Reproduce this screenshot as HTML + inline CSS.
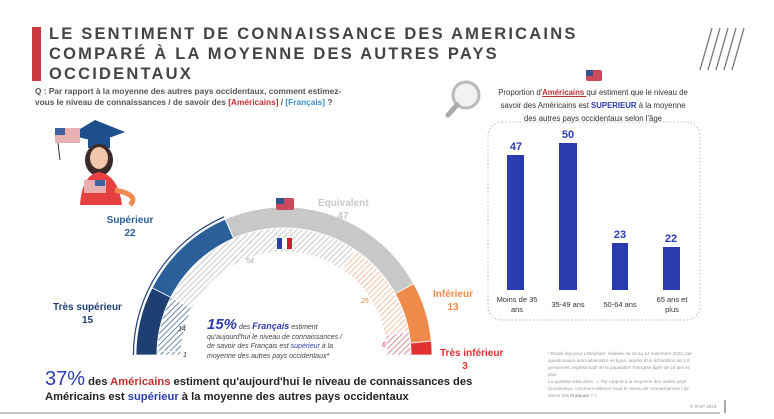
<!DOCTYPE html>
<html><head><meta charset="utf-8">
<style>
body{margin:0;background:#fff;width:774px;height:419px;overflow:hidden;font-family:"Liberation Sans",Arial,sans-serif;position:relative}
.t{position:absolute;white-space:nowrap}
</style></head><body>
<div class="t" style="left:32px;top:27px;width:9px;height:54px;background:#c8383c"></div>
<div class="t" style="left:49px;top:24px;font-size:16.5px;font-weight:bold;color:#444;letter-spacing:2.2px;line-height:20px">LE SENTIMENT DE CONNAISSANCE DES AMERICAINS<br>COMPARÉ À LA MOYENNE DES AUTRES PAYS<br>OCCIDENTAUX</div>
<div class="t" style="left:35px;top:86px;font-size:8.3px;font-weight:bold;color:#555;line-height:11px">Q : Par rapport à la moyenne des autres pays occidentaux, comment estimez-<br>vous le niveau de connaissances / de savoir des <span style="color:#c0302f">[Américains]</span> / <span style="color:#3a8fc8">[Français]</span> ?</div>

<svg class="t" style="left:0;top:0" width="774" height="419" id="sv">
<defs>
<pattern id="hg" width="4" height="4" patternUnits="userSpaceOnUse" patternTransform="rotate(45)"><rect width="4" height="4" fill="#fff"/><line x1="0" y1="0" x2="0" y2="4" stroke="#bbb" stroke-width="1.6"/></pattern>
<pattern id="hb" width="4" height="4" patternUnits="userSpaceOnUse" patternTransform="rotate(45)"><rect width="4" height="4" fill="#fff"/><line x1="0" y1="0" x2="0" y2="4" stroke="#4a6a90" stroke-width="1.6"/></pattern>
<pattern id="ho" width="4" height="4" patternUnits="userSpaceOnUse" patternTransform="rotate(45)"><rect width="4" height="4" fill="#fff"/><line x1="0" y1="0" x2="0" y2="4" stroke="#f0b08a" stroke-width="1.6"/></pattern>
<pattern id="hr" width="4" height="4" patternUnits="userSpaceOnUse" patternTransform="rotate(45)"><rect width="4" height="4" fill="#fff"/><line x1="0" y1="0" x2="0" y2="4" stroke="#d07080" stroke-width="1.6"/></pattern>
</defs>
<g stroke="#777" stroke-width="1.3"><line x1="700" y1="70" x2="712" y2="28"/><line x1="708" y1="70" x2="720" y2="28"/><line x1="716" y1="70" x2="728" y2="28"/><line x1="724" y1="70" x2="736" y2="28"/><line x1="732" y1="70" x2="744" y2="28"/></g>
<circle cx="466" cy="95" r="13" fill="#f2f2f2" stroke="#bbb" stroke-width="3"/>
<line x1="457" y1="105" x2="448" y2="115" stroke="#aaa" stroke-width="5" stroke-linecap="round"/>
<path d="M70 135 L95 120 L125 132 L98 142Z" fill="#1d4f8c"/>
<rect x="88" y="138" width="22" height="10" fill="#1d4f8c"/>
<ellipse cx="99" cy="160" rx="14" ry="16" fill="#3a2a2a"/>
<ellipse cx="99" cy="158" rx="9" ry="11" fill="#f2c6a8"/>
<path d="M80 205 Q82 175 99 172 Q118 175 122 205Z" fill="#e84040"/>
<path d="M115 190 Q140 195 130 205" stroke="#f08a50" stroke-width="5" fill="none"/>
<rect x="55" y="128" width="25" height="15" fill="#e8b0b0"/><rect x="55" y="128" width="10" height="7" fill="#4060a0"/>
<line x1="58" y1="143" x2="60" y2="160" stroke="#333"/>
<rect x="84" y="180" width="22" height="13" fill="#e8b0b0"/><rect x="95" y="180" width="10" height="6" fill="#4060a0"/>
<g id="arcs"></g>
<rect x="276" y="198" width="18" height="12" rx="2" fill="#c94a5a"/><rect x="276" y="198" width="8" height="6" fill="#34528c"/>
<rect x="277" y="238" width="5" height="11" fill="#2244aa"/><rect x="282" y="238" width="5" height="11" fill="#fff"/><rect x="287" y="238" width="5" height="11" fill="#d02030"/>
<rect x="586" y="70" width="16" height="11" rx="2" fill="#c94a5a"/><rect x="586" y="70" width="7" height="6" fill="#34528c"/>
<rect x="488" y="122" width="212" height="198" rx="14" fill="none" stroke="#bbb" stroke-dasharray="1.5 2"/>
<g fill="#2b3cb0"><rect x="507" y="155" width="17" height="135"/><rect x="559" y="143" width="18" height="147"/><rect x="612" y="243" width="16" height="47"/><rect x="663" y="247" width="17" height="43"/></g>
<g font-family="Liberation Sans" font-weight="bold" font-size="11" fill="#2b3cb0" text-anchor="middle"><text x="516" y="150">47</text><text x="568" y="138">50</text><text x="620" y="238">23</text><text x="671" y="242">22</text></g>
<line x1="0" y1="413" x2="720" y2="413" stroke="#888" stroke-width="1"/>
<line x1="725" y1="400" x2="725" y2="413" stroke="#555"/>
</svg>

<div class="t" style="left:498px;top:86px;width:190px;text-align:center;font-size:7.8px;color:#333;line-height:13px;white-space:normal">Proportion d'<b style="color:#c0302f;text-decoration:underline">Américains </b>qui estiment que le niveau de savoir des Américains est <b style="color:#2b3cb0">SUPERIEUR</b> à la moyenne des autres pays occidentaux selon l'âge</div>
<div class="t" style="left:490px;top:295px;width:54px;text-align:center;font-size:7.5px;color:#333;line-height:10px">Moins de 35<br>ans</div>
<div class="t" style="left:546px;top:300px;width:44px;text-align:center;font-size:7.5px;color:#333">35-49 ans</div>
<div class="t" style="left:598px;top:300px;width:44px;text-align:center;font-size:7.5px;color:#333">50-64 ans</div>
<div class="t" style="left:650px;top:295px;width:44px;text-align:center;font-size:7.5px;color:#333;line-height:10px">65 ans et<br>plus</div>

<div class="t" style="left:105px;top:214px;width:50px;text-align:center;font-size:10px;font-weight:bold;color:#2a5f9a;line-height:13px">Supérieur<br>22</div>
<div class="t" style="left:45px;top:301px;width:85px;text-align:center;font-size:10px;font-weight:bold;color:#1f3f73;line-height:13px">Très supérieur<br>15</div>
<div class="t" style="left:318px;top:197px;width:50px;text-align:center;font-size:10px;font-weight:bold;color:#c8c8c8;line-height:13px">Equivalent<br>47</div>
<div class="t" style="left:428px;top:288px;width:50px;text-align:center;font-size:10px;font-weight:bold;color:#ef8a4a;line-height:13px">Inférieur<br>13</div>
<div class="t" style="left:440px;top:347px;font-size:10px;font-weight:bold;color:#e03030;line-height:13px">Très inférieur<br>&nbsp;&nbsp;&nbsp;&nbsp;&nbsp;&nbsp;&nbsp;&nbsp;3</div>
<div class="t" style="left:246px;top:258px;font-size:7px;font-style:italic;color:#aaa">54</div>
<div class="t" style="left:361px;top:298px;font-size:7px;font-style:italic;color:#ef8a4a">25</div>
<div class="t" style="left:382px;top:342px;font-size:7px;font-style:italic;color:#e03030">6</div>
<div class="t" style="left:178px;top:326px;font-size:7px;font-style:italic;color:#333">14</div>
<div class="t" style="left:183px;top:352px;font-size:7px;font-style:italic;color:#333">1</div>
<div class="t" style="left:207px;top:320px;font-size:7px;font-style:italic;color:#444;line-height:9.5px"><span style="font-size:15px;font-weight:bold;color:#2b3cb0">15%</span> des <b style="color:#2b3cb0;font-size:9px">Français</b> estiment<br>qu'aujourd'hui le niveau de connaissances /<br>de savoir des Français est <span style="color:#2b3cb0">supérieur</span> à la<br>moyenne des autres pays occidentaux*</div>
<div class="t" style="left:45px;top:372px;font-size:11.2px;font-weight:bold;color:#222;line-height:15px"><span style="font-size:20px;color:#2b3cb0;font-weight:normal">37%</span> des <span style="color:#c0302f">Américains</span> estiment qu'aujourd'hui le niveau de connaissances des<br>Américains est <span style="color:#2b3cb0">supérieur</span> à la moyenne des autres pays occidentaux</div>
<div class="t" style="left:548px;top:350px;font-size:4.6px;color:#999;line-height:7px">* Etude Ifop pour L'Eléphant, réalisée du 10 au 14 novembre 2022, par<br>questionnaire auto-administré en ligne, auprès d'un échantillon de 1 0<br>personnes, représentatif de la population française âgée de 18 ans et<br>plus.<br>La question était alors : « Par rapport à la moyenne des autres pays<br>occidentaux, comment estimez-vous le niveau de connaissances / de<br>savoir des <b>Français</b> ? »</div>
<div class="t" style="left:690px;top:404px;font-size:4.5px;color:#999">© IFOP 2023</div>

<script>
var cx=284,cy=355;
function arc(r1,r2,a0,a1){function p(r,a){var t=Math.PI*(1-a/100);return [cx+r*Math.cos(t),cy-r*Math.sin(t)];}
var A=p(r2,a0),B=p(r2,a1),C=p(r1,a1),D=p(r1,a0);
return "M"+A+" A"+r2+" "+r2+" 0 0 1 "+B+" L"+C+" A"+r1+" "+r1+" 0 0 0 "+D+"Z";}
var g=document.getElementById('arcs'),s="";
function seg(r1,r2,vals,cols){var a=0;vals.forEach(function(v,i){s+='<path d="'+arc(r1,r2,a,a+v)+'" fill="'+cols[i]+'" stroke="#fff" stroke-width="0.8"/>';a+=v;});}
seg(127,148,[15,22,47,13,3],["#1f3f73","#2a5f9a","#c8c8c8","#ef8a4a","#e03030"]);
seg(103,127,[1,14,54,25,6],["url(#hb)","url(#hb)","url(#hg)","url(#ho)","url(#hr)"]);
s+='<path d="'+arc(150,151.2,0,37)+'" fill="#1f3f73"/>';
g.innerHTML=s;
</script>
</body></html>
